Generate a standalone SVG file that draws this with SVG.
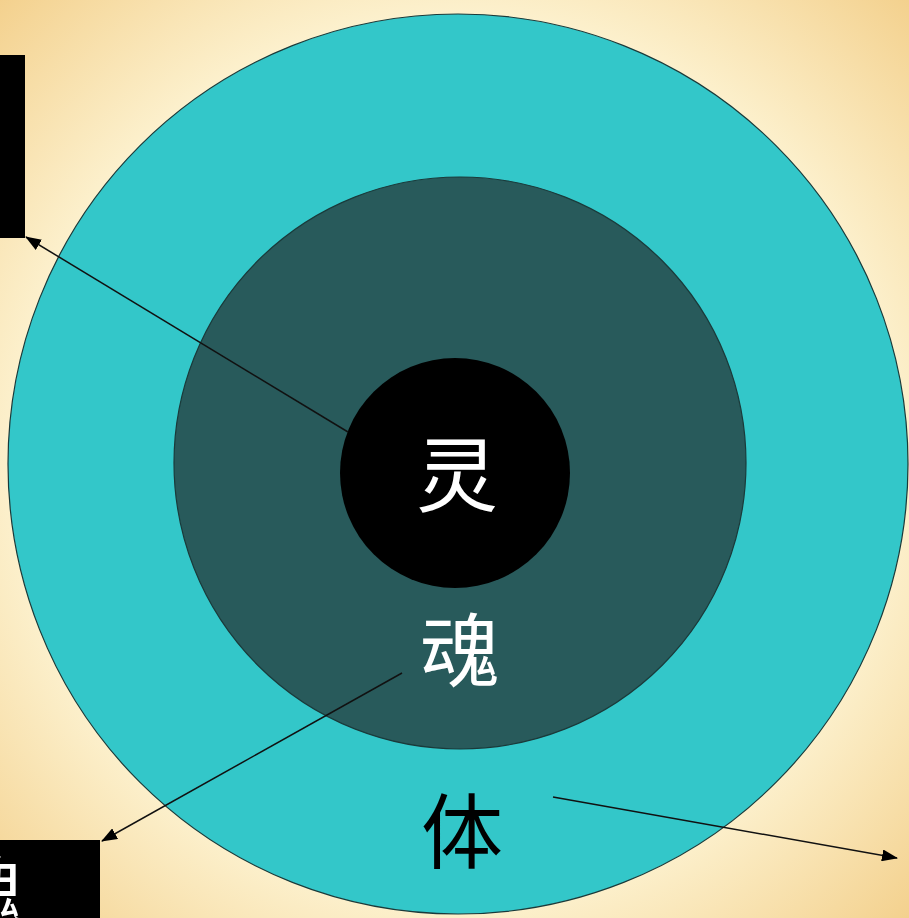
<svg xmlns="http://www.w3.org/2000/svg" width="909" height="918" viewBox="0 0 909 918">
<defs>
<radialGradient id="bg" cx="0.5" cy="0.5" r="0.72">
<stop offset="0" stop-color="#fffdf0"/>
<stop offset="0.65" stop-color="#fdf3d2"/>
<stop offset="1" stop-color="#f3cf8a"/>
</radialGradient>
<marker id="ah" markerWidth="16" markerHeight="12" refX="15" refY="6" orient="auto" markerUnits="userSpaceOnUse">
<path d="M0,0 L16,6 L0,12 z" fill="#000"/>
</marker>
<style>
.ring{stroke:#1a3a3a;stroke-width:1.2}
.lbl{font-family:"Noto Sans CJK SC","Noto Sans",sans-serif;text-anchor:middle}
.conn{stroke:#111;stroke-width:1.5;fill:none;marker-end:url(#ah)}
</style>
</defs>
<rect width="909" height="918" fill="url(#bg)"/>
<g id="box-top"><rect x="0" y="55" width="25" height="183" fill="#000"/></g>
<g id="box-bottom"><rect x="0" y="840" width="100" height="78" fill="#000"/>
<text class="lbl" x="-16" y="922" font-size="78" fill="#fff">魂</text></g>
<g id="body"><circle cx="458" cy="464" r="450" fill="#33c7c9" class="ring"/>
<text class="lbl" x="462" y="862" font-size="82" fill="#000">体</text></g>
<g id="soul"><circle cx="460" cy="463" r="286" fill="#285a5b" class="ring"/>
<text class="lbl" x="460" y="680" font-size="80" fill="#fff">魂</text></g>
<g id="spirit"><circle cx="455" cy="473" r="115" fill="#000"/>
<text class="lbl" x="457" y="505" font-size="82" fill="#fff">灵</text></g>
<g id="connectors">
<line class="conn" x1="348" y1="432" x2="26" y2="237"/>
<line class="conn" x1="402" y1="673" x2="102" y2="841"/>
<line class="conn" x1="553" y1="797" x2="897" y2="858"/>
</g>
</svg>
